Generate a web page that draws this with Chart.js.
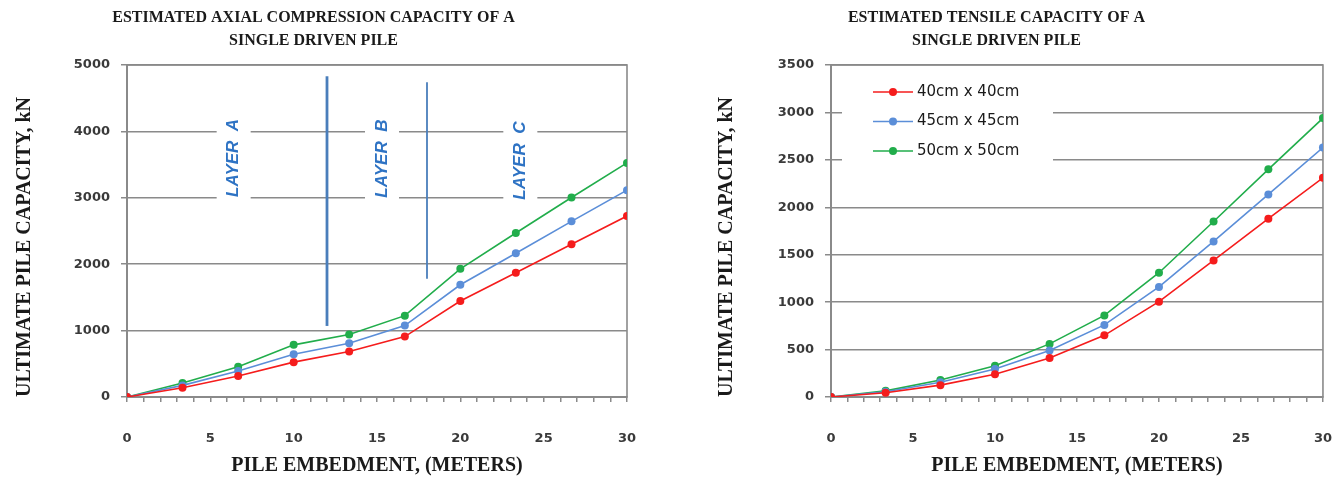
<!DOCTYPE html>
<html>
<head>
<meta charset="utf-8">
<script src="https://cdn.jsdelivr.net/npm/chart.js@4.4.0/dist/chart.umd.min.js"></script>
<style>
  body { margin: 0; background: #fff; overflow: hidden; }
  #wrap { position: relative; width: 1339px; height: 481px; overflow: hidden; }
  #compChart { position: absolute; left: 0; top: 0; }
  #tensChart { position: absolute; left: 670px; top: 0; }
</style>
</head>
<body>
<div id="wrap">
  <canvas id="compChart" width="670" height="481"></canvas>
  <canvas id="tensChart" width="691" height="481"></canvas>
</div>
<script>
// pile embedment depths (m)
const embedment = [0, 3.33, 6.67, 10, 13.33, 16.67, 20, 23.33, 26.67, 30];
const seriesNames = ['40cm x 40cm', '45cm x 45cm', '50cm x 50cm'];
const seriesColors = ['#f51c1c', '#5b8ed8', '#21ad4b'];

// axial compression capacity (kN)
const comp40 = [0, 140, 315, 525, 685, 910, 1445, 1870, 2300, 2725];
const comp45 = [0, 175, 390, 645, 810, 1075, 1690, 2165, 2645, 3115];
const comp50 = [0, 210, 455, 785, 940, 1225, 1930, 2470, 3005, 3525];

// tensile capacity (kN)
const tens40 = [0, 45, 125, 240, 410, 650, 1005, 1440, 1880, 2310];
const tens45 = [0, 55, 155, 295, 490, 760, 1160, 1640, 2135, 2630];
const tens50 = [0, 65, 180, 330, 560, 860, 1310, 1850, 2400, 2940];

// soil layers on the compression chart
const layerNames = ['LAYER  A', 'LAYER  B', 'LAYER  C'];
const layerLabelX = [6.4, 15.3, 23.6];
const layerLabelY = [3600, 3590, 3560];
const boundaryX = [12, 18];
const boundaryBottom = [1070, 1780];
const boundaryTop = [4830, 4740];

const tickFont = { family: 'DejaVu Sans', size: 13, weight: 'bold' };
const serifBold = { family: 'Liberation Serif', weight: 'bold' };
const gray = '#8a8a8a';

function toPoints(values) {
    return embedment.map((x, i) => ({ x: x, y: values[i] }));
}

function seriesDatasets(lists) {
    return lists.map((values, i) => ({
        label: seriesNames[i],
        data: toPoints(values),
        borderColor: seriesColors[i],
        backgroundColor: seriesColors[i],
        borderWidth: 1.6,
        pointRadius: 4,
        pointBorderWidth: 0,
        pointHoverRadius: 4
    }));
}

// border round the plot area
const plotBorder = {
    id: 'plotBorder',
    beforeDatasetsDraw(chart) {
        const a = chart.chartArea;
        const ctx = chart.ctx;
        ctx.save();
        ctx.strokeStyle = gray;
        ctx.lineWidth = 1.6;
        ctx.strokeRect(a.left, a.top, a.right - a.left, a.bottom - a.top);
        ctx.restore();
    }
};

// rotated LAYER labels with white boxes
const layerLabels = {
    id: 'layerLabels',
    beforeDatasetsDraw(chart) {
        const ctx = chart.ctx;
        const xs = chart.scales.x, ys = chart.scales.y;
        ctx.save();
        ctx.font = 'italic bold 17px "Liberation Sans"';
        layerNames.forEach((name, i) => {
            const px = xs.getPixelForValue(layerLabelX[i]);
            const py = ys.getPixelForValue(layerLabelY[i]);
            const w = ctx.measureText(name).width;
            ctx.fillStyle = '#fff';
            ctx.fillRect(px - 17, py - w / 2 - 8, 34, w + 16);
            ctx.translate(px, py);
            ctx.rotate(-Math.PI / 2);
            ctx.fillStyle = '#2e73c4';
            ctx.textAlign = 'center';
            ctx.textBaseline = 'middle';
            ctx.fillText(name, 0, 0);
            ctx.setTransform(1, 0, 0, 1, 0, 0);
        });
        ctx.restore();
    }
};

// legend box inside the plot area
const innerLegend = {
    id: 'innerLegend',
    beforeDatasetsDraw(chart) {
        const ctx = chart.ctx;
        const a = chart.chartArea;
        const left = a.left + 11, top = a.top + 8;
        ctx.save();
        ctx.fillStyle = '#fff';
        ctx.fillRect(left, top, 211, 100);
        ctx.font = '15px "DejaVu Sans"';
        ctx.textBaseline = 'middle';
        chart.data.datasets.forEach((ds, i) => {
            const y = a.top + 27 + i * 29.5;
            ctx.strokeStyle = ds.borderColor;
            ctx.lineWidth = 1.6;
            ctx.beginPath();
            ctx.moveTo(a.left + 42, y);
            ctx.lineTo(a.left + 82, y);
            ctx.stroke();
            ctx.fillStyle = ds.borderColor;
            ctx.beginPath();
            ctx.arc(a.left + 62, y, 4, 0, Math.PI * 2);
            ctx.fill();
            ctx.fillStyle = '#1a1a1a';
            ctx.fillText(ds.label, a.left + 86, y);
        });
        ctx.restore();
    }
};

function makeOptions(titleLines, yMax, yStep, yWidth, yTitlePad, padRight) {
    return {
        responsive: false,
        animation: false,
        layout: { padding: { top: 0, bottom: 0, right: padRight } },
        plugins: {
            legend: { display: false },
            tooltip: { enabled: false },
            title: {
                display: true,
                text: titleLines,
                color: '#1a1a1a',
                font: Object.assign({ size: 16, lineHeight: 1.44 }, serifBold),
                padding: { top: 6.5, bottom: 12.4 }
            }
        },
        scales: {
            x: {
                type: 'linear',
                min: 0,
                max: 30,
                afterFit(scale) { scale.height = 84; },
                grid: { drawOnChartArea: false, color: gray, lineWidth: 1.5, tickLength: 5 },
                border: { color: gray, width: 2 },
                ticks: {
                    stepSize: 1,
                    autoSkip: false,
                    maxRotation: 0,
                    padding: 29,
                    color: '#3a3a3a',
                    font: tickFont,
                    callback: (v) => (v % 5 === 0 ? String(v) : '')
                },
                title: {
                    display: true,
                    text: 'PILE EMBEDMENT, (METERS)',
                    color: '#1a1a1a',
                    font: Object.assign({ size: 20, lineHeight: 1.2 }, serifBold),
                    padding: { top: 0, bottom: 3 }
                }
            },
            y: {
                min: 0,
                max: yMax,
                afterFit(scale) { scale.width = yWidth; },
                grid: { color: gray, lineWidth: 1.5, tickLength: 6 },
                border: { color: gray, width: 2 },
                ticks: {
                    stepSize: yStep,
                    padding: 11,
                    color: '#3a3a3a',
                    font: tickFont,
                    callback: (v) => String(v)
                },
                title: {
                    display: true,
                    text: 'ULTIMATE PILE CAPACITY, kN',
                    align: 'start',
                    color: '#1a1a1a',
                    font: Object.assign({ size: 20, lineHeight: 1.2 }, serifBold),
                    padding: { top: yTitlePad, bottom: 0 }
                }
            }
        }
    };
}

// compression chart: series plus layer boundary lines
const compDatasets = seriesDatasets([comp40, comp45, comp50]);
boundaryX.forEach((x, i) => {
    compDatasets.push({
        label: 'boundary',
        data: [{ x: x, y: boundaryBottom[i] }, { x: x, y: boundaryTop[i] }],
        borderColor: '#4a7ebb',
        borderWidth: i === 0 ? 2.8 : 1.8,
        pointRadius: 0
    });
});

new Chart(document.getElementById('compChart'), {
    type: 'line',
    data: { datasets: compDatasets },
    options: makeOptions(['ESTIMATED AXIAL COMPRESSION CAPACITY OF A', 'SINGLE DRIVEN PILE'],
        5000, 1000, 127, 13, 43),
    plugins: [plotBorder, layerLabels]
});

new Chart(document.getElementById('tensChart'), {
    type: 'line',
    data: { datasets: seriesDatasets([tens40, tens45, tens50]) },
    options: makeOptions(['ESTIMATED TENSILE CAPACITY OF A', 'SINGLE DRIVEN PILE'],
        3500, 500, 161, 45, 38),
    plugins: [plotBorder, innerLegend]
});
</script>
</body>
</html>
